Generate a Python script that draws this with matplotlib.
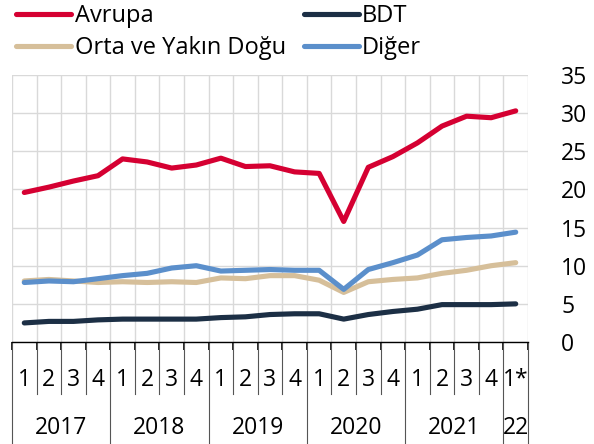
import matplotlib.pyplot as plt
import matplotlib.transforms as mtransforms

plt.rcParams['font.family'] = ['Open Sans', 'DejaVu Sans']

# Çeyreklik veriler, 2017Ç1 - 2022Ç1
ceyrekler = ['1', '2', '3', '4'] * 5 + ['1*']
yillar = ['2017', '2018', '2019', '2020', '2021', '22']

avrupa = [19.6, 20.3, 21.1, 21.8, 24.0, 23.6, 22.8, 23.2, 24.1, 23.0,
          23.1, 22.3, 22.1, 15.8, 22.9, 24.3, 26.1, 28.3, 29.6, 29.4, 30.3]
bdt = [2.5, 2.7, 2.7, 2.9, 3.0, 3.0, 3.0, 3.0, 3.2, 3.3,
       3.6, 3.7, 3.7, 3.0, 3.6, 4.0, 4.3, 4.9, 4.9, 4.9, 5.0]
orta_yakin_dogu = [8.0, 8.2, 8.0, 7.8, 7.9, 7.8, 7.9, 7.8, 8.4, 8.3,
                   8.7, 8.7, 8.1, 6.5, 7.9, 8.2, 8.4, 9.0, 9.4, 10.0, 10.4]
diger = [7.8, 8.0, 7.9, 8.3, 8.7, 9.0, 9.7, 10.0, 9.3, 9.4,
         9.5, 9.4, 9.4, 6.9, 9.5, 10.4, 11.4, 13.4, 13.7, 13.9, 14.4]

fs = 16.5
lw = 3.7

fig = plt.figure(figsize=(5.94, 4.44), dpi=100)
ax = fig.add_axes([12 / 594, 1 - 342 / 444, 516 / 594, 267 / 444])

x = list(range(len(ceyrekler)))
l_oyd, = ax.plot(x, orta_yakin_dogu, color='#D6BF9A', lw=lw, solid_capstyle='round', zorder=3)
l_dig, = ax.plot(x, diger, color='#5B8FCB', lw=lw, solid_capstyle='round', zorder=4)
l_bdt, = ax.plot(x, bdt, color='#1C2F45', lw=lw, solid_capstyle='round', zorder=5)
l_avr, = ax.plot(x, avrupa, color='#D50032', lw=lw, solid_capstyle='round', zorder=6)

ax.set_xlim(-0.5, len(x) - 0.5)
ax.set_ylim(0, 35)

# ızgara: yatay 5'er, dikey çeyrek sınırlarında
ax.set_yticks(range(0, 36, 5))
ax.set_xticks([i - 0.5 for i in range(len(x) + 1)])
ax.set_xticklabels([])
ax.grid(True, color='#D9D9D9', lw=1, zorder=0)
ax.set_axisbelow(True)

ax.yaxis.tick_right()
ax.tick_params(axis='y', length=0, pad=24, labelsize=fs)
for lab in ax.get_yticklabels():
    lab.set_horizontalalignment('left')
ax.tick_params(axis='x', length=6, width=1.2, color='black', direction='out')

for s in ['top', 'left', 'right']:
    ax.spines[s].set_visible(False)
ax.spines['bottom'].set_color('black')
ax.spines['bottom'].set_linewidth(1)

# alt kısım: çeyrek ve yıl etiketleri, ayraçlar
tr = mtransforms.blended_transform_factory(ax.transData, ax.transAxes)
q_bottom = -0.195
y_bottom = -0.385
for i in range(len(x) + 1):
    b = i - 0.5
    yil_siniri = (i % 4 == 0) or i == len(x)
    ax.plot([b, b], [0, y_bottom if yil_siniri else q_bottom], transform=tr,
            color='#555555', lw=0.8, clip_on=False)

for i, q in enumerate(ceyrekler):
    ax.text(i, -0.142, q, transform=tr, ha='center', va='center', fontsize=fs)

for k, yil in enumerate(yillar):
    if k < 5:
        xc = k * 4 + 1.5
    else:
        xc = 20
    ax.text(xc, -0.322, yil, transform=tr, ha='center', va='center', fontsize=fs)

fig.legend([l_avr, l_oyd, l_bdt, l_dig],
           ['Avrupa', 'Orta ve Yakın Doğu', 'BDT', 'Diğer'],
           ncol=2, loc='upper left', bbox_to_anchor=(16 / 594, 0.99),
           frameon=False, fontsize=17, handlelength=2.35, handletextpad=0.13,
           columnspacing=0.76, labelspacing=0.33, borderpad=0.0,
           borderaxespad=0.0)

fig.savefig('out.png', dpi=100)
